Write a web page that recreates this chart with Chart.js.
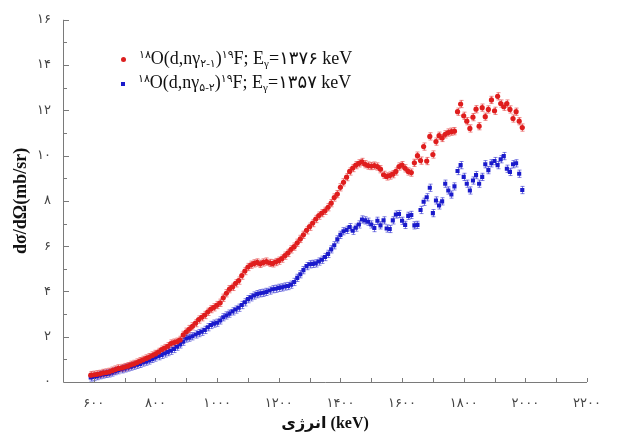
<!DOCTYPE html>
<html>
<head>
<meta charset="utf-8">
<script src="https://cdn.jsdelivr.net/npm/chart.js@4.4.0/dist/chart.umd.min.js"></script>
<style>
  html, body { margin: 0; padding: 0; background: #fff; }
  #wrap { position: relative; width: 619px; height: 436px; }
  .leg { position: absolute; left: 121px; font-family: 'Liberation Serif', 'DejaVu Sans', serif; font-size: 18px; color: #111; white-space: nowrap; line-height: 20px; }
  .leg sup, .leg sub { font-size: 11px; line-height: 0; }
  .leg sup { vertical-align: 6px; }
  .leg sub { vertical-align: -3px; }
  .mk { display: inline-block; width: 5px; height: 5px; margin-right: 13px; vertical-align: 2px; }
  .mk.red { background: #dc1f1f; border-radius: 50%; }
  .mk.blue { background: #1a1acb; width: 4px; height: 4px; }
</style>
</head>
<body>
<div id="wrap">
  <canvas id="chart" width="619" height="436"></canvas>
  <div class="leg" style="top:48px;"><span class="mk red"></span><sup>۱۸</sup>O(d,nγ<sub>۲-۱</sub>)<sup>۱۹</sup>F; E<sub>γ</sub>=۱۳۷۶ keV</div>
  <div class="leg" style="top:72px;"><span class="mk blue"></span><sup>۱۸</sup>O(d,nγ<sub>۵-۲</sub>)<sup>۱۹</sup>F; E<sub>γ</sub>=۱۳۵۷ keV</div>
</div>
<script>
// energies (keV)
var energies = [590,
  600,610,620,630,640,650,660,670,680,690,
  700,710,720,730,740,750,760,770,780,790,
  800,810,820,830,840,850,860,870,880,890,
  900,910,920,930,940,950,960,970,980,990,
  1000,1010,1020,1030,1040,1050,1060,1070,1080,1090,
  1100,1110,1120,1130,1140,1150,1160,1170,1180,1190,
  1200,1210,1220,1230,1240,1250,1260,1270,1280,1290,
  1300,1310,1320,1330,1340,1350,1360,1370,1380,1390,
  1400,1410,1420,1430,1440,1450,1460,1470,1480,1490,
  1500,1510,1520,1530,1540,1550,1560,1570,1580,1590,
  1600,1610,1620,1630,1640,1650,1660,1670,1680,1690,
  1700,1710,1720,1730,1740,1750,1760,1770,1780,1790,
  1800,1810,1820,1830,1840,1850,1860,1870,1880,1890,
  1900,1910,1920,1930,1940,1950,1960,1970,1980,1990];

// E_gamma = 1376 keV (red)
var sigma1376 = [0.30,
  0.32,0.34,0.36,0.40,0.42,0.45,0.50,0.55,0.60,0.62,
  0.66,0.70,0.76,0.80,0.86,0.92,0.98,1.04,1.10,1.17,
  1.24,1.33,1.43,1.50,1.58,1.70,1.74,1.78,1.86,2.08,
  2.22,2.34,2.46,2.60,2.76,2.86,2.96,3.10,3.22,3.30,
  3.40,3.50,3.72,3.92,4.10,4.20,4.36,4.48,4.70,4.90,
  5.08,5.18,5.24,5.28,5.22,5.28,5.32,5.26,5.24,5.30,
  5.36,5.45,5.58,5.70,5.86,5.98,6.15,6.32,6.50,6.70,
  6.86,7.02,7.20,7.35,7.46,7.56,7.72,7.90,8.15,8.30,
  8.60,8.82,9.05,9.30,9.45,9.58,9.66,9.72,9.62,9.56,
  9.54,9.56,9.52,9.40,9.15,9.08,9.12,9.18,9.30,9.52,
  9.58,9.44,9.30,9.25,9.68,10.00,9.78,10.40,9.76,10.85,
  10.05,10.62,10.88,10.78,10.94,11.02,11.06,11.08,11.94,12.28,
  11.76,11.52,11.20,11.70,12.05,11.30,12.12,11.72,12.04,12.46,
  11.98,12.62,12.30,12.16,12.30,12.04,11.64,11.94,11.52,11.24];

// E_gamma = 1357 keV (blue)
var sigma1357 = [0.20,
  0.22,0.26,0.30,0.33,0.36,0.38,0.42,0.48,0.52,0.56,
  0.60,0.64,0.68,0.72,0.76,0.80,0.86,0.90,0.95,1.02,
  1.08,1.14,1.20,1.26,1.32,1.38,1.46,1.56,1.66,1.78,
  1.92,1.96,2.02,2.10,2.16,2.22,2.30,2.42,2.52,2.58,
  2.62,2.72,2.86,2.94,3.02,3.12,3.20,3.28,3.40,3.52,
  3.66,3.74,3.82,3.88,3.92,3.94,3.98,4.04,4.10,4.12,
  4.16,4.18,4.22,4.24,4.30,4.42,4.60,4.76,4.94,5.12,
  5.20,5.22,5.24,5.32,5.40,5.52,5.66,5.86,6.04,6.30,
  6.50,6.66,6.72,6.84,6.68,6.82,6.96,7.18,7.14,7.08,
  6.96,6.80,7.12,6.92,7.14,6.78,6.76,7.14,7.40,7.42,
  7.12,6.94,7.34,7.38,6.92,6.94,7.60,7.96,8.16,8.58,
  7.46,8.02,7.80,7.98,8.76,8.46,8.28,8.64,9.32,9.58,
  9.06,8.76,8.46,8.90,9.14,8.76,9.06,9.62,9.36,9.66,
  9.76,9.58,9.84,9.98,9.42,9.28,9.62,9.66,9.20,8.48];

var errBar = 0.16; // mb/sr

var xLabelValues = [600, 800, 1000, 1200, 1400, 1600, 1800, 2000, 2200];
var xTickLabels = ['۶۰۰', '۸۰۰', '۱۰۰۰', '۱۲۰۰', '۱۴۰۰', '۱۶۰۰', '۱۸۰۰', '۲۰۰۰', '۲۲۰۰'];
var yLabelValues = [0, 2, 4, 6, 8, 10, 12, 14, 16];
var yTickLabels = ['۰', '۲', '۴', '۶', '۸', '۱۰', '۱۲', '۱۴', '۱۶'];

function toPoints(vals) {
  return vals.map(function(v, i) { return {x: energies[i], y: v}; });
}

// axis lines, inward ticks and error bars
var axisDecor = {
  id: 'axisDecor',
  beforeDatasetsDraw: function(chart) {
    var ctx = chart.ctx, xs = chart.scales.x, ys = chart.scales.y;
    ctx.save();
    ctx.lineWidth = 1;
    chart.data.datasets.forEach(function(ds) {
      ctx.strokeStyle = ds.errColor;
      ds.data.forEach(function(p) {
        var px = Math.round(xs.getPixelForValue(p.x)) + 0.5;
        var y1 = ys.getPixelForValue(p.y - errBar), y2 = ys.getPixelForValue(p.y + errBar);
        ctx.beginPath();
        ctx.moveTo(px, y1); ctx.lineTo(px, y2);
        ctx.moveTo(px - 2, y1); ctx.lineTo(px + 2, y1);
        ctx.moveTo(px - 2, y2); ctx.lineTo(px + 2, y2);
        ctx.stroke();
      });
    });
    ctx.restore();
  },
  afterDraw: function(chart) {
    var ctx = chart.ctx, a = chart.chartArea, xs = chart.scales.x, ys = chart.scales.y;
    ctx.save();
    ctx.strokeStyle = '#7a7a7a';
    ctx.lineWidth = 1;
    ctx.beginPath();
    ctx.moveTo(a.left + 0.5, a.top);
    ctx.lineTo(a.left + 0.5, a.bottom + 0.5);
    ctx.lineTo(a.right, a.bottom + 0.5);
    var v, p;
    for (v = 600; v <= 2200; v += 100) {
      p = Math.round(xs.getPixelForValue(v)) + 0.5;
      ctx.moveTo(p, a.bottom); ctx.lineTo(p, a.bottom - 4);
    }
    for (v = 1; v <= 16; v += 1) {
      p = Math.round(ys.getPixelForValue(v)) + 0.5;
      ctx.moveTo(a.left, p); ctx.lineTo(a.left + (v % 2 === 0 ? 6 : 4), p);
    }
    ctx.stroke();
    ctx.restore();
  }
};

new Chart(document.getElementById('chart'), {
  type: 'scatter',
  data: {
    datasets: [{
      label: 'Eγ=1376 keV',
      data: toPoints(sigma1376),
      pointStyle: 'circle',
      pointRadius: 2.6,
      borderWidth: 0,
      backgroundColor: '#df1d1d',
      errColor: 'rgba(223,29,29,0.55)'
    }, {
      label: 'Eγ=1357 keV',
      data: toPoints(sigma1357),
      pointStyle: 'rect',
      pointRadius: 2.9,
      borderWidth: 0,
      backgroundColor: '#1a1acb',
      errColor: 'rgba(26,26,203,0.55)'
    }]
  },
  options: {
    responsive: false,
    animation: false,
    layout: { padding: { top: 15, right: 32, left: 0, bottom: 0 } },
    plugins: { legend: { display: false }, tooltip: { enabled: false } },
    scales: {
      x: {
        type: 'linear',
        min: 500,
        max: 2200,
        grid: { display: false, drawTicks: false },
        border: { display: false },
        afterFit: function(scale) { scale.height = 54; },
        ticks: {
          stepSize: 100,
          autoSkip: false,
          maxRotation: 0,
          padding: 14,
          color: '#444',
          font: { family: "'DejaVu Sans', sans-serif", size: 13 },
          callback: function(v) {
            var i = xLabelValues.indexOf(v);
            return i >= 0 ? xTickLabels[i] : '';
          }
        },
        title: {
          display: true,
          text: 'انرژی (keV)',
          color: '#111',
          font: { family: "'Liberation Serif', 'DejaVu Sans', serif", size: 16, weight: 'bold' },
          padding: { top: 0, bottom: 3 }
        }
      },
      y: {
        min: 0,
        max: 16,
        grid: { display: false, drawTicks: false },
        border: { display: false },
        afterFit: function(scale) { scale.width = 63; },
        ticks: {
          stepSize: 2,
          padding: 12,
          color: '#444',
          font: { family: "'DejaVu Sans', sans-serif", size: 13 },
          callback: function(v) {
            var i = yLabelValues.indexOf(v);
            return i >= 0 ? yTickLabels[i] : '';
          }
        },
        title: {
          display: true,
          text: 'dσ/dΩ(mb/sr)',
          color: '#111',
          font: { family: "'Liberation Serif', serif", size: 18, weight: 'bold' },
          padding: { top: 11, bottom: 0 }
        }
      }
    }
  },
  plugins: [axisDecor]
});
</script>
</body>
</html>
